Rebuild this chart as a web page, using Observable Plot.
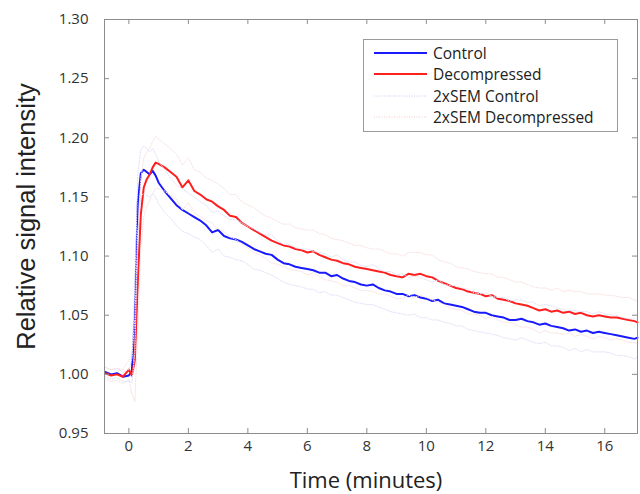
<!DOCTYPE html>
<html><head><meta charset="utf-8">
<script src="https://cdn.jsdelivr.net/npm/d3@7"></script>
<script src="https://cdn.jsdelivr.net/npm/@observablehq/plot@0.6"></script>
<style>
body{margin:0;background:#fff;}
#wrap{position:relative;width:640px;height:494px;}
#legend{position:absolute;left:363px;top:39px;width:253px;height:91px;border:1px solid #9a9a9a;background:#fff;font-family:"Open Sans",sans-serif;font-size:15.5px;color:#222;}
.row{position:absolute;left:10px;height:20px;display:flex;align-items:center;white-space:nowrap;}
.row svg{margin-right:6px;}
</style></head><body><div id="wrap"></div>
<script>
// time (minutes)
const times = [
 -0.8,-0.6,-0.4,-0.2,0.0,0.1,0.2,0.3,0.4,0.5,
 0.6,0.7,0.8,0.9,1.0,1.2,1.4,1.6,1.8,2.0,
 2.2,2.4,2.6,2.8,3.0,3.2,3.4,3.6,3.8,4.0,
 4.2,4.4,4.6,4.8,5.0,5.2,5.4,5.6,5.8,6.0,
 6.2,6.4,6.6,6.8,7.0,7.2,7.4,7.6,7.8,8.0,
 8.2,8.4,8.6,8.8,9.0,9.2,9.4,9.6,9.8,10.0,
 10.2,10.4,10.6,10.8,11.0,11.2,11.4,11.6,11.8,12.0,
 12.2,12.4,12.6,12.8,13.0,13.2,13.4,13.6,13.8,14.0,
 14.2,14.4,14.6,14.8,15.0,15.2,15.4,15.6,15.8,16.0,
 16.2,16.4,16.6,16.8,17.0,17.1];
const control = [
 1.002,1.000,1.001,0.998,0.999,1.003,1.048,1.145,1.170,1.173,
 1.171,1.169,1.172,1.168,1.162,1.155,1.149,1.143,1.139,1.136,
 1.133,1.130,1.126,1.120,1.122,1.117,1.115,1.114,1.112,1.109,
 1.106,1.104,1.102,1.101,1.097,1.094,1.093,1.091,1.090,1.089,
 1.088,1.086,1.086,1.083,1.084,1.081,1.079,1.078,1.076,1.075,
 1.076,1.073,1.071,1.070,1.068,1.068,1.066,1.067,1.065,1.064,
 1.062,1.063,1.060,1.059,1.058,1.057,1.055,1.053,1.052,1.052,
 1.050,1.049,1.048,1.046,1.046,1.047,1.045,1.044,1.042,1.043,
 1.041,1.040,1.039,1.037,1.038,1.036,1.037,1.035,1.036,1.035,
 1.034,1.033,1.032,1.031,1.030,1.031];
const decompressed = [
 1.001,0.999,1.000,0.998,1.004,0.999,1.012,1.078,1.135,1.158,
 1.165,1.169,1.175,1.179,1.178,1.175,1.171,1.167,1.158,1.164,
 1.155,1.152,1.148,1.146,1.142,1.139,1.134,1.133,1.128,1.125,
 1.122,1.119,1.116,1.113,1.111,1.109,1.108,1.106,1.105,1.103,
 1.104,1.101,1.099,1.097,1.096,1.094,1.093,1.091,1.090,1.089,
 1.088,1.087,1.086,1.084,1.083,1.082,1.085,1.084,1.085,1.083,
 1.082,1.079,1.077,1.075,1.073,1.072,1.070,1.069,1.068,1.066,
 1.067,1.064,1.063,1.062,1.060,1.059,1.058,1.056,1.054,1.055,
 1.053,1.054,1.052,1.053,1.051,1.052,1.050,1.049,1.050,1.049,
 1.048,1.048,1.047,1.046,1.045,1.044];
// 2 x SEM half-widths
const semControl = [
 0.004,0.004,0.004,0.004,0.005,0.010,0.030,0.025,0.020,0.020,
 0.020,0.019,0.019,0.018,0.018,0.018,0.017,0.017,0.018,0.017,
 0.017,0.016,0.017,0.017,0.016,0.017,0.016,0.017,0.016,0.016,
 0.017,0.016,0.016,0.017,0.016,0.016,0.017,0.016,0.016,0.017,
 0.016,0.017,0.016,0.016,0.017,0.016,0.016,0.017,0.016,0.016,
 0.017,0.016,0.016,0.017,0.016,0.017,0.016,0.016,0.017,0.016,
 0.016,0.017,0.016,0.016,0.017,0.016,0.017,0.016,0.016,0.017,
 0.016,0.016,0.017,0.016,0.017,0.016,0.016,0.017,0.016,0.016,
 0.017,0.016,0.016,0.017,0.016,0.017,0.016,0.016,0.017,0.016,
 0.016,0.017,0.016,0.016,0.017,0.016];
const semDecompressed = [
 0.005,0.005,0.005,0.006,0.008,0.015,0.035,0.040,0.030,0.025,
 0.023,0.022,0.022,0.022,0.021,0.020,0.020,0.019,0.019,0.019,
 0.018,0.019,0.018,0.018,0.019,0.018,0.018,0.019,0.018,0.018,
 0.019,0.018,0.018,0.019,0.018,0.018,0.019,0.018,0.018,0.019,
 0.018,0.018,0.019,0.018,0.018,0.019,0.018,0.018,0.019,0.018,
 0.018,0.019,0.018,0.018,0.019,0.018,0.018,0.019,0.018,0.018,
 0.019,0.018,0.018,0.019,0.018,0.018,0.019,0.018,0.018,0.019,
 0.018,0.018,0.019,0.018,0.018,0.019,0.018,0.018,0.019,0.018,
 0.018,0.019,0.018,0.018,0.019,0.018,0.018,0.019,0.018,0.018,
 0.019,0.018,0.018,0.019,0.018,0.018];
const xTicks = [0,2,4,6,8,10,12,14,16];
const yTicks = [0.95,1.00,1.05,1.10,1.15,1.20,1.25,1.30];
const seriesNames = ["Control","Decompressed","2xSEM Control","2xSEM Decompressed"];
const colors = {control:"#1a1aff", decompressed:"#ff1f1f", semControl:"#dfdff9", semDecompressed:"#f9dfdf"};

const rows = (vals, off, sign) => times.map((t,i) => ({t, v: vals[i] + (off ? sign*off[i] : 0)}));
const frameColor = "#8c8c8c";

const chart = Plot.plot({
  width: 640, height: 494,
  marginLeft: 104, marginRight: 3, marginTop: 19, marginBottom: 61,
  style: {fontFamily: "'Open Sans', sans-serif", fontSize: "15px", color: "#333", background: "#fff"},
  x: {domain: [-0.82, 17.1]},
  y: {domain: [0.95, 1.30]},
  marks: [
    Plot.line(rows(control), {x:"t", y:"v", stroke: colors.control, strokeWidth: 2}),
    Plot.line(rows(decompressed), {x:"t", y:"v", stroke: colors.decompressed, strokeWidth: 2}),
    Plot.line(rows(control, semControl, 1), {x:"t", y:"v", stroke: colors.semControl, strokeWidth: 1, strokeDasharray: "1,1.5"}),
    Plot.line(rows(control, semControl, -1), {x:"t", y:"v", stroke: colors.semControl, strokeWidth: 1, strokeDasharray: "1,1.5"}),
    Plot.line(rows(decompressed, semDecompressed, 1), {x:"t", y:"v", stroke: colors.semDecompressed, strokeWidth: 1, strokeDasharray: "1,1.5"}),
    Plot.line(rows(decompressed, semDecompressed, -1), {x:"t", y:"v", stroke: colors.semDecompressed, strokeWidth: 1, strokeDasharray: "1,1.5"}),
    Plot.frame({stroke: frameColor}),
    Plot.ruleX(xTicks, {x: d => d, insetTop: 409, stroke: frameColor}),
    Plot.ruleX(xTicks, {x: d => d, insetBottom: 409, stroke: frameColor}),
    Plot.ruleY(yTicks, {y: d => d, insetRight: 528, stroke: frameColor}),
    Plot.ruleY(yTicks, {y: d => d, insetLeft: 528, stroke: frameColor}),
    Plot.axisX({ticks: xTicks, tickSize: 0, tickPadding: 7, label: null, fill: "#333"}),
    Plot.axisY({ticks: yTicks, tickSize: 0, tickPadding: 16, label: null, tickFormat: d3.format(".2f"), fill: "#333"}),
    Plot.text(["Time (minutes)"], {text: d => d, frameAnchor: "bottom", textAnchor: "middle", lineAnchor: "bottom", dy: 54, dx: -5, fontSize: 22, fill: "#222", fontFamily: "'Open Sans', sans-serif"}),
    Plot.text(["Relative signal intensity"], {text: d => d, frameAnchor: "left", textAnchor: "middle", lineAnchor: "middle", rotate: -90, dx: -78, dy: -10, fontSize: 25.5, fill: "#222", fontFamily: "'Liberation Sans', Arial, sans-serif"})
  ]
});
const wrap = document.getElementById("wrap");
wrap.appendChild(chart);

// legend
const legend = document.createElement("div");
legend.id = "legend";
const legendStyles = [
  {stroke: colors.control, w: 2, dash: null},
  {stroke: colors.decompressed, w: 2, dash: null},
  {stroke: "#c8c8f0", w: 1, dash: "1,1.5"},
  {stroke: "#f0c8c8", w: 1, dash: "1,1.5"}
];
const tops = [3, 24, 46, 67];
seriesNames.forEach((name, i) => {
  const r = document.createElement("div");
  r.className = "row";
  r.style.top = tops[i] + "px";
  const s = legendStyles[i];
  r.innerHTML = `<svg width="53" height="6"><line x1="0" x2="53" y1="3" y2="3" stroke="${s.stroke}" stroke-width="${s.w}" ${s.dash ? `stroke-dasharray="${s.dash}"` : ""}/></svg><span>${name}</span>`;
  legend.appendChild(r);
});
wrap.appendChild(legend);
</script>
</body></html>
